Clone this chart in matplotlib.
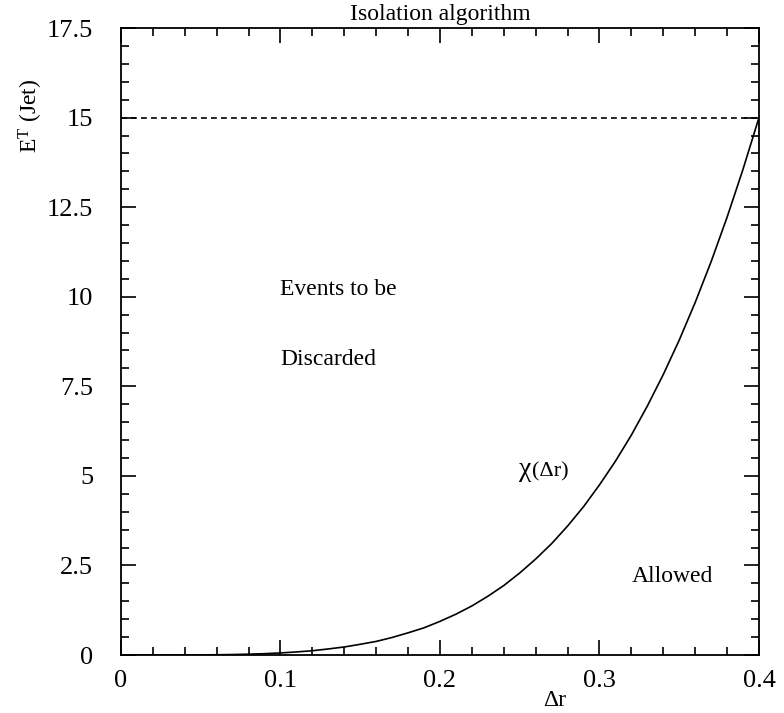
import matplotlib
matplotlib.use("Agg")
import matplotlib.pyplot as plt
from matplotlib.ticker import MultipleLocator, FixedLocator

plt.rcParams['font.family'] = ['Liberation Serif', 'DejaVu Serif']
plt.rcParams['mathtext.fontset'] = 'custom'
plt.rcParams['mathtext.rm'] = 'Liberation Serif'
plt.rcParams['mathtext.it'] = 'Liberation Serif'

# Data
delta_r = [0.00, 0.01, 0.02, 0.03, 0.04, 0.05, 0.06, 0.07, 0.08, 0.09,
           0.10, 0.11, 0.12, 0.13, 0.14, 0.15, 0.16, 0.17, 0.18, 0.19,
           0.20, 0.21, 0.22, 0.23, 0.24, 0.25, 0.26, 0.27, 0.28, 0.29,
           0.30, 0.31, 0.32, 0.33, 0.34, 0.35, 0.36, 0.37, 0.38, 0.39, 0.40]
chi = [0.0, 0.0, 0.0001, 0.0005, 0.0015, 0.0037, 0.0076, 0.014, 0.024, 0.038,
       0.059, 0.086, 0.12, 0.17, 0.225, 0.30, 0.38, 0.49, 0.62, 0.76,
       0.94, 1.14, 1.37, 1.64, 1.94, 2.29, 2.68, 3.11, 3.60, 4.14,
       4.75, 5.41, 6.14, 6.95, 7.83, 8.79, 9.84, 10.98, 12.22, 13.56, 15.0]
threshold = 15.0
x_ticks = [0, 0.1, 0.2, 0.3, 0.4]
x_tick_labels = ["0", "0.1", "0.2", "0.3", "0.4"]
y_ticks = [0, 2.5, 5, 7.5, 10, 12.5, 15, 17.5]
y_tick_labels = ["0", "2.5", "5", "7.5", "10", "12.5", "15", "17.5"]

fig = plt.figure(figsize=(7.84, 7.13), dpi=100)
ax = fig.add_axes([0.1543, 0.0813, 0.8138, 0.8794])

ax.plot(delta_r, chi, color='black', lw=1.2)
ax.axhline(threshold, color='black', lw=1.2, linestyle=(0, (3.5, 2.5)))

ax.set_xlim(0, 0.4)
ax.set_ylim(0, 17.5)
ax.xaxis.set_major_locator(FixedLocator(x_ticks))
ax.set_xticklabels(x_tick_labels)
ax.yaxis.set_major_locator(FixedLocator(y_ticks))
ax.set_yticklabels(y_tick_labels)
ax.xaxis.set_minor_locator(MultipleLocator(0.02))
ax.yaxis.set_minor_locator(MultipleLocator(0.5))

for s in ax.spines.values():
    s.set_linewidth(1.3)
ax.tick_params(which='both', direction='in', top=True, right=True, width=1.2)
ax.tick_params(which='major', length=11)
ax.tick_params(which='minor', length=6)
ax.tick_params(axis='x', which='major', labelsize=19, pad=11)
ax.tick_params(axis='y', which='major', labelsize=19, pad=20)

ax.text(0.5, 1.005, "Isolation algorithm", transform=ax.transAxes,
        ha='center', va='bottom', fontsize=17)
ax.text(-0.141, 0.86, r"E$^{\mathrm{T}}$ (Jet)", transform=ax.transAxes,
        rotation=90, ha='center', va='center', fontsize=17)
ax.text(0.68, -0.072, "Δr", transform=ax.transAxes,
        ha='center', va='center', fontsize=17)

ax.text(0.1, 10.2, "Events to be", ha='left', va='center', fontsize=17)
ax.text(0.1, 8.25, "Discarded", ha='left', va='center', fontsize=17)
chi_txt = ax.text(0.2495, 5.0, "χ", ha='left', va='baseline', fontsize=20)
ax.annotate("(Δr)", xy=(1.0, 0.0), xycoords=chi_txt, xytext=(0.5, 0.5),
            textcoords='offset points', ha='left', va='bottom', fontsize=16)
ax.text(0.32, 2.2, "Allowed", ha='left', va='center', fontsize=17)

fig.savefig("out.png", dpi=100)
